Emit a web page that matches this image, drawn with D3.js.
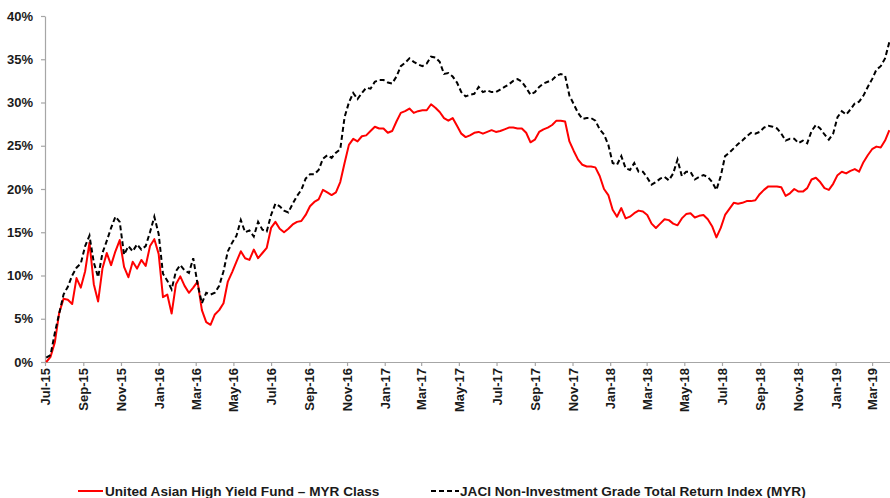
<!DOCTYPE html>
<html>
<head>
<meta charset="utf-8">
<script src="https://cdn.jsdelivr.net/npm/d3@7"></script>
<style>
  html, body { margin: 0; padding: 0; background: #fff; }
  svg { display: block; font-family: "Liberation Sans", Arial, sans-serif; }
</style>
</head>
<body>
<svg id="chart" width="890" height="498"></svg>
<script>
// Weekly cumulative returns (%) starting 3 Jul 2015
const startDate = new Date(2015, 6, 3);

const fundMYR = [
  0.0, 0.6, 2.3, 5.7, 7.3, 7.2, 6.7, 9.7, 8.6, 10.5, 13.8, 9.0, 7.0, 10.8, 12.6, 11.2, 12.8, 14.1, 11.0, 9.8,
  11.6, 10.8, 11.8, 11.1, 13.4, 14.2, 12.5, 7.5, 7.8, 5.6, 9.0, 9.9, 8.8, 8.0, 8.6, 9.3, 6.0, 4.6, 4.3, 5.5,
  6.0, 6.8, 9.3, 10.4, 11.6, 12.8, 12.0, 11.8, 13.0, 12.0, 12.6, 13.2, 15.5,
  16.2, 15.4, 15.0, 15.4, 15.9, 16.2, 16.3, 17.0, 18.0, 18.5, 18.8, 19.9, 19.6, 19.3, 19.6, 20.8, 23.0, 25.1,
  25.8, 25.5, 26.1, 26.2, 26.7, 27.2, 27.0, 27.0, 26.5, 26.7, 27.8, 28.8, 29.0, 29.3, 28.8, 29.0, 29.1, 29.1,
  29.8, 29.4, 28.9, 28.2, 27.9, 28.2, 27.3, 26.4, 26.0, 26.2, 26.5, 26.6,
  26.4, 26.6, 26.8, 26.6, 26.7, 26.9, 27.1, 27.1, 27.0, 27.0, 26.5, 25.4, 25.7, 26.6, 26.9, 27.1, 27.4, 27.9,
  27.9, 27.8, 25.5, 24.4, 23.4, 22.8, 22.6, 22.6, 22.5, 21.5, 20.0, 19.3, 17.6, 16.8, 17.8, 16.6, 16.8, 17.2,
  17.5, 17.4, 17.0, 16.0, 15.5, 16.0, 16.5, 16.4, 16.0, 15.8,
  16.6, 17.1, 17.2, 16.7, 16.9, 17.0, 16.5, 15.7, 14.4, 15.5, 17.0, 17.7, 18.4, 18.3, 18.4, 18.6, 18.6, 18.7,
  19.4, 19.9, 20.3, 20.3, 20.3, 20.2, 19.2, 19.5, 20.0, 19.7, 19.7, 20.1, 21.1, 21.3, 20.8, 20.1, 19.9, 20.6,
  21.6, 22.0, 21.8, 22.1, 22.3, 22.0, 23.1, 23.9, 24.6, 24.9, 24.8, 25.6, 26.8
];

const jaciIndex = [
  0.5, 0.8, 3.4, 5.6, 7.8, 8.7, 10.0, 10.9, 11.4, 13.4, 14.6, 11.5, 9.8, 12.6, 14.0, 15.5, 16.8, 16.2, 12.4, 13.4,
  12.8, 13.6, 13.0, 13.4, 15.0, 16.8, 14.8, 10.2, 9.4, 8.4, 10.5, 11.2, 10.6, 10.3, 12.0, 9.0, 6.8, 8.0, 7.8, 8.0,
  8.8, 10.5, 12.8, 13.8, 14.6, 16.4, 15.0, 15.2, 14.5, 16.2, 15.3, 15.1, 17.0,
  18.3, 18.0, 17.5, 17.3, 18.3, 19.2, 19.9, 21.2, 21.7, 21.7, 22.2, 23.5, 23.9, 23.6, 24.2, 24.6, 28.3, 30.0,
  31.1, 30.4, 31.1, 31.7, 31.6, 32.4, 32.6, 32.6, 32.3, 32.2, 33.0, 34.2, 34.6, 35.1, 34.7, 34.4, 34.2, 34.5,
  35.3, 35.2, 34.7, 33.3, 33.4, 33.0, 32.3, 31.2, 30.7, 30.9, 31.0, 31.8,
  31.2, 31.4, 31.2, 31.2, 31.5, 31.8, 32.1, 32.5, 32.7, 32.4, 31.7, 30.9, 31.2, 31.8, 32.2, 32.4, 32.6, 33.1,
  33.3, 33.1, 30.8, 29.8, 28.8, 28.1, 28.2, 28.2, 27.9, 26.9, 26.3, 25.1, 23.0, 22.8, 23.8, 22.4, 22.2, 23.0,
  22.0, 22.0, 21.3, 20.5, 20.8, 21.2, 21.4, 21.0, 21.8, 23.4,
  21.5, 22.0, 22.0, 21.1, 21.4, 21.6, 21.4, 20.8, 19.9, 21.5, 23.8, 24.2, 24.7, 25.2, 25.6, 26.1, 26.5, 26.4,
  26.6, 27.1, 27.3, 27.2, 27.0, 26.4, 25.6, 25.8, 25.8, 25.3, 25.6, 25.3, 26.7, 27.4, 27.0, 26.3, 25.7, 26.4,
  28.3, 29.0, 28.6, 29.2, 29.9, 30.1, 30.8, 31.8, 32.7, 33.8, 34.2, 35.1, 37.0
];

const yTicks = [0, 5, 10, 15, 20, 25, 30, 35, 40];
const seriesNames = [
  "United Asian High Yield Fund \u2013 MYR Class",
  "JACI Non-Investment Grade Total Return Index (MYR)"
];

const dates = fundMYR.map((_, i) => d3.timeDay.offset(startDate, 7 * i));

const svg = d3.select("#chart");
const plotLeft = 45, plotRight = 890, plotTop = 16, plotBottom = 362;

const x = d3.scaleTime()
  .domain([new Date(2015, 6, 1), new Date(2019, 2, 30)])
  .range([plotLeft, plotRight]);
const y = d3.scaleLinear().domain([0, 40]).range([plotBottom, plotTop]);

const axisColor = "#a6a6a6";
const labelColor = "#1a1a1a";

// Y axis
const yAxis = svg.append("g")
  .attr("transform", `translate(${plotLeft},0)`)
  .call(d3.axisLeft(y).tickValues(yTicks).tickFormat(d => d + "%").tickSize(4).tickSizeOuter(0));
yAxis.select(".domain").attr("stroke", axisColor).attr("stroke-width", 1.2);
yAxis.selectAll(".tick line").attr("stroke", axisColor).attr("stroke-width", 1.2);
yAxis.selectAll(".tick text")
  .attr("x", -12)
  .attr("fill", labelColor)
  .style("font-size", "13px")
  .style("font-weight", "bold");

// X axis: a label every two months, set vertically
const xAxis = svg.append("g")
  .attr("transform", `translate(0,${plotBottom})`)
  .call(d3.axisBottom(x).ticks(d3.timeMonth.every(2)).tickFormat(d3.timeFormat("%b-%y")).tickSize(4).tickSizeOuter(0));
xAxis.select(".domain").attr("stroke", axisColor).attr("stroke-width", 1.2);
xAxis.selectAll(".tick line").attr("stroke", axisColor).attr("stroke-width", 1.2);
xAxis.selectAll(".tick text")
  .attr("transform", "rotate(-90)")
  .attr("x", -6)
  .attr("y", 0)
  .attr("dy", "0.35em")
  .attr("text-anchor", "end")
  .attr("fill", labelColor)
  .style("font-size", "13px")
  .style("font-weight", "bold");

svg.append("clipPath").attr("id", "plot-clip")
  .append("rect").attr("x", plotLeft).attr("y", 0).attr("width", plotRight - plotLeft).attr("height", plotBottom + 1);

const line = d3.line()
  .x((d, i) => x(dates[i]))
  .y(d => y(d));

const plot = svg.append("g").attr("clip-path", "url(#plot-clip)");

plot.append("path")
  .datum(fundMYR)
  .attr("fill", "none")
  .attr("stroke", "#ff0000")
  .attr("stroke-width", 2)
  .attr("stroke-linejoin", "round")
  .attr("d", line);

plot.append("path")
  .datum(jaciIndex)
  .attr("fill", "none")
  .attr("stroke", "#000")
  .attr("stroke-width", 2)
  .attr("stroke-dasharray", "5,3")
  .attr("d", line);

// Legend
const legend = svg.append("g").style("font-size", "13.6px").style("font-weight", "bold");
legend.append("line")
  .attr("x1", 78).attr("x2", 103).attr("y1", 491).attr("y2", 491)
  .attr("stroke", "#ff0000").attr("stroke-width", 2);
legend.append("text").attr("x", 105).attr("y", 496).attr("fill", labelColor).text(seriesNames[0]);
legend.append("line")
  .attr("x1", 431).attr("x2", 459).attr("y1", 491).attr("y2", 491)
  .attr("stroke", "#000").attr("stroke-width", 2).attr("stroke-dasharray", "5,3");
legend.append("text").attr("x", 460).attr("y", 496).attr("fill", labelColor).text(seriesNames[1]);
</script>
</body>
</html>
